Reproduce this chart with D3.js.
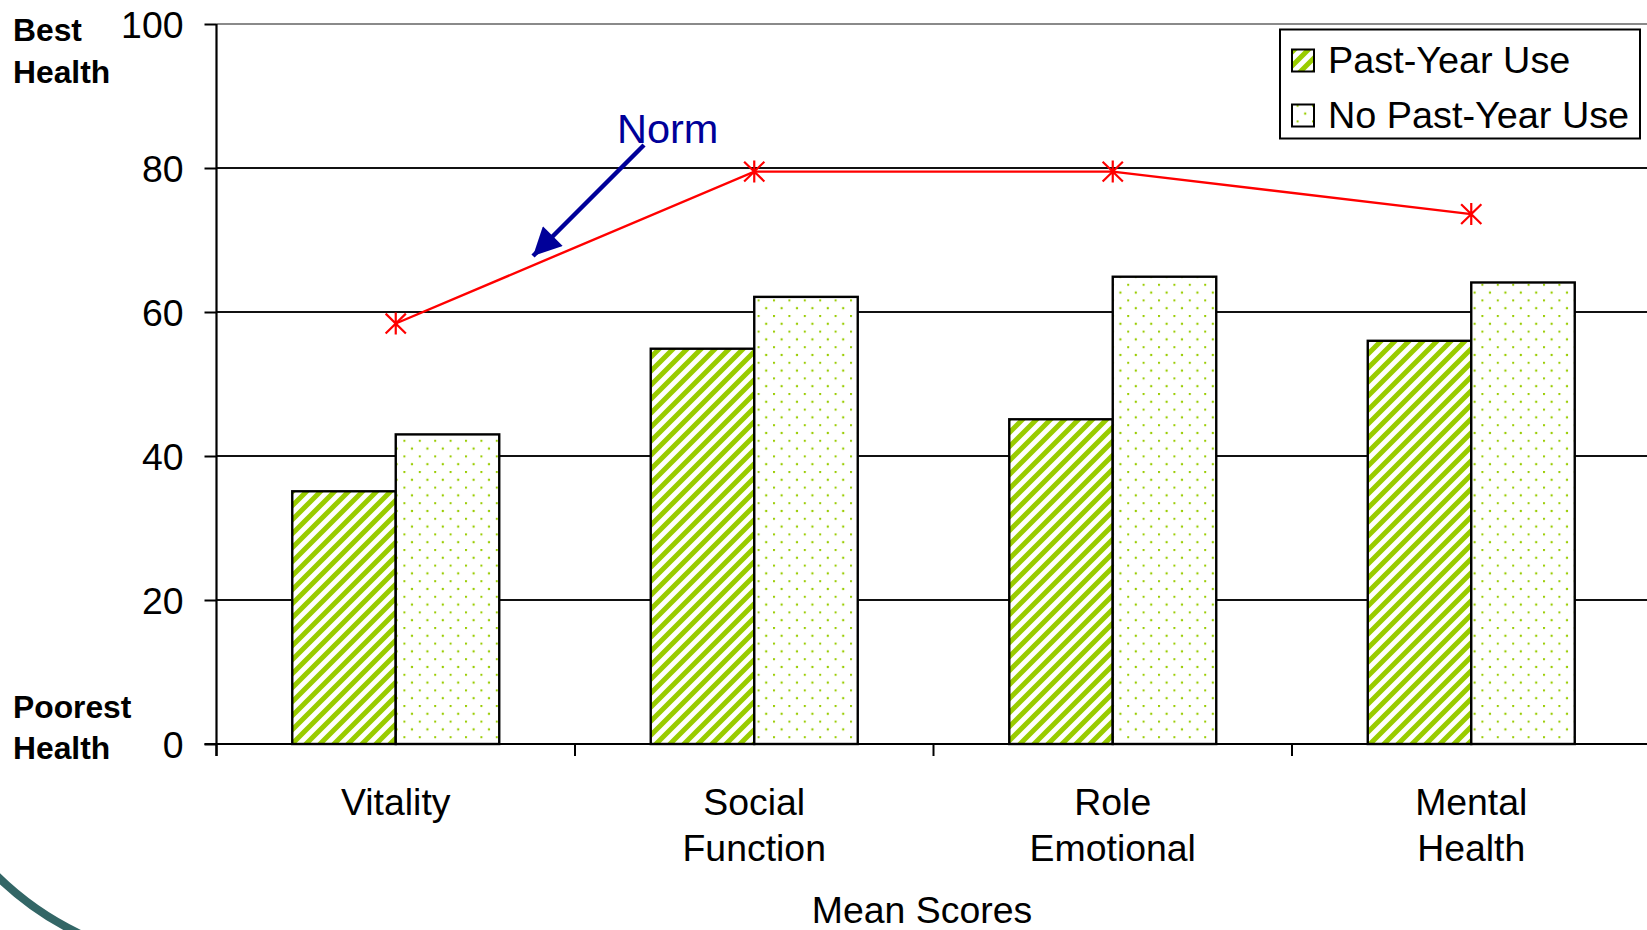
<!DOCTYPE html>
<html>
<head>
<meta charset="utf-8">
<script src="https://cdn.jsdelivr.net/npm/d3@7"></script>
<style>
  html, body { margin: 0; padding: 0; background: #fff; }
  svg { display: block; font-family: "Liberation Sans", Arial, sans-serif; }
</style>
</head>
<body>
<svg id="chart" width="1647" height="930"></svg>
<script>
// ---- data ----
const categories = ["Vitality", "Social Function", "Role Emotional", "Mental Health"];
const seriesNames = ["Past-Year Use", "No Past-Year Use"];
const pastYearUse = [35.1, 54.9, 45.1, 56.0];
const noPastYearUse = [43.0, 62.1, 64.9, 64.1];
const normValues = [58.4, 79.5, 79.5, 73.6];
const yTicks = [0, 20, 40, 60, 80, 100];

// ---- layout ----
const svg = d3.select("#chart");
const plotL = 216.5, plotR = 1650.5, plotT = 24, plotB = 744;
const font = 37.4;

const x = d3.scaleBand().domain(categories).range([plotL, plotR]).padding(0);
const xs = d3.scaleBand().domain(seriesNames).range([0, x.bandwidth()])
  .paddingInner(0).paddingOuter(0.732);
const y = d3.scaleLinear().domain([0, 100]).range([plotB, plotT]);

// ---- patterns ----
const defs = svg.append("defs");
const green = "#99CC00";
const P = 14;
const stripe = defs.append("pattern").attr("id", "stripes")
  .attr("patternUnits", "userSpaceOnUse").attr("width", P).attr("height", P);
stripe.append("rect").attr("width", P).attr("height", P).attr("fill", "#fff");
stripe.append("path")
  .attr("d", `M-4,4 L4,-4 M0,${P} L${P},0 M${P-4},${P+4} L${P+4},${P-4}`)
  .attr("stroke", green).attr("stroke-width", 5);

const dots = defs.append("pattern").attr("id", "dots")
  .attr("patternUnits", "userSpaceOnUse").attr("width", 15.4).attr("height", 15.6)
  .attr("x", 3).attr("y", 3);
dots.append("rect").attr("width", 15.4).attr("height", 15.6).attr("fill", "#fff");
dots.append("circle").attr("cx", 0.9).attr("cy", 0.9).attr("r", 1.2).attr("fill", green);
dots.append("circle").attr("cx", 8.6).attr("cy", 8.7).attr("r", 1.2).attr("fill", green);

const fills = ["url(#stripes)", "url(#dots)"];
const series = [pastYearUse, noPastYearUse];

// ---- gridlines ----
svg.append("g").selectAll("line").data(yTicks.filter(d => d > 0)).join("line")
  .attr("x1", plotL).attr("x2", 1647)
  .attr("y1", d => y(d)).attr("y2", d => y(d))
  .attr("stroke", d => d === 100 ? "#8a8a8a" : "#111")
  .attr("stroke-width", 2);

// ---- y axis ----
const yAxis = svg.append("g").attr("transform", `translate(${plotL},0)`)
  .call(d3.axisLeft(y).tickValues(yTicks).tickSize(12).tickPadding(21));
yAxis.select(".domain").attr("stroke", "#000").attr("stroke-width", 2.2)
  .attr("d", `M0,${plotT}V${plotB + 12}`);
yAxis.selectAll(".tick line").attr("stroke", "#000").attr("stroke-width", 2);
yAxis.selectAll(".tick text").attr("font-size", font).attr("fill", "#000")
  .attr("font-family", '"Liberation Sans", Arial, sans-serif').attr("dy", "0.35em");

// ---- bars ----
const groups = svg.append("g").selectAll("g").data(series).join("g");
groups.each(function(vals, si) {
  d3.select(this).selectAll("rect").data(vals).join("rect")
    .attr("x", (d, i) => x(categories[i]) + xs(seriesNames[si]))
    .attr("y", d => y(d))
    .attr("width", xs.bandwidth())
    .attr("height", d => y(0) - y(d))
    .attr("fill", fills[si])
    .attr("stroke", "#000").attr("stroke-width", 2.4);
});

// ---- x axis ----
svg.append("line").attr("x1", plotL - 12).attr("x2", 1647)
  .attr("y1", y(0)).attr("y2", y(0)).attr("stroke", "#000").attr("stroke-width", 2.2);
const boundaries = categories.map(c => x(c)).concat([x(categories[3]) + x.step()]);
svg.append("g").selectAll("line").data(boundaries).join("line")
  .attr("x1", d => d).attr("x2", d => d)
  .attr("y1", y(0)).attr("y2", y(0) + 12)
  .attr("stroke", "#000").attr("stroke-width", 2);

const xl = svg.append("g").selectAll("text").data(categories).join("text")
  .attr("x", d => x(d) + x.bandwidth() / 2)
  .attr("y", 815)
  .attr("text-anchor", "middle").attr("font-size", font).attr("fill", "#000");
xl.selectAll("tspan").data(d => d.split(" ")).join("tspan")
  .attr("x", function() { return d3.select(this.parentNode).attr("x"); })
  .attr("dy", (d, i) => i === 0 ? 0 : 46)
  .text(d => d);

svg.append("text").attr("x", 922).attr("y", 923).attr("text-anchor", "middle")
  .attr("font-size", font).attr("fill", "#000").text("Mean Scores");

// ---- side labels ----
const side = svg.append("g").attr("font-size", 31.8).attr("font-weight", "bold").attr("fill", "#000");
side.append("text").attr("x", 13).attr("y", 41).text("Best");
side.append("text").attr("x", 13).attr("y", 83).text("Health");
side.append("text").attr("x", 13).attr("y", 718).text("Poorest");
side.append("text").attr("x", 13).attr("y", 759).text("Health");

// ---- norm line ----
const cx = i => x(categories[i]) + x.bandwidth() / 2;
svg.append("path").datum(normValues)
  .attr("d", d3.line().x((d, i) => cx(i)).y(d => y(d)))
  .attr("fill", "none").attr("stroke", "#FF0000").attr("stroke-width", 2.4);
const star = s => `M0,${-s}V${s}M${-s*0.92},${-s*0.9}L${s*0.92},${s*0.9}M${-s*0.92},${s*0.9}L${s*0.92},${-s*0.9}`;
svg.append("g").selectAll("path").data(normValues).join("path")
  .attr("transform", (d, i) => `translate(${cx(i)},${y(d)})`)
  .attr("d", star(11)).attr("stroke", "#FF0000").attr("stroke-width", 2.2).attr("fill", "none");

// ---- Norm annotation ----
const navy = "#000099";
svg.append("text").attr("x", 617).attr("y", 143).attr("font-size", 41.5)
  .attr("fill", navy).text("Norm");
defs.append("marker").attr("id", "arrowhead").attr("viewBox", "0 0 10 10")
  .attr("refX", 10).attr("refY", 5).attr("markerUnits", "userSpaceOnUse")
  .attr("markerWidth", 30).attr("markerHeight", 28).attr("orient", "auto")
  .append("path").attr("d", "M0,0 L10,5 L0,10 Z").attr("fill", navy);
svg.append("line").attr("x1", 644).attr("y1", 145).attr("x2", 533).attr("y2", 256)
  .attr("stroke", navy).attr("stroke-width", 4.5).attr("marker-end", "url(#arrowhead)");

// ---- legend ----
const lg = svg.append("g");
lg.append("rect").attr("x", 1280).attr("y", 29.5).attr("width", 360).attr("height", 109)
  .attr("fill", "#fff").attr("stroke", "#000").attr("stroke-width", 2);
const li = lg.selectAll("g").data(seriesNames).join("g")
  .attr("transform", (d, i) => `translate(0,${i * 55})`);
li.append("rect").attr("x", 1292).attr("y", 49.5).attr("width", 22).attr("height", 22)
  .attr("fill", (d, i) => fills[i]).attr("stroke", "#000").attr("stroke-width", 2);
li.append("text").attr("x", 1328).attr("y", 73).attr("font-size", 37.8).attr("fill", "#000")
  .text(d => d);

// ---- decorative arc (slide template) ----
svg.append("path").attr("d", "M-6,873 A307,307 0 0,0 80,934")
  .attr("fill", "none").attr("stroke", "#336666").attr("stroke-width", 8);
</script>
</body>
</html>
